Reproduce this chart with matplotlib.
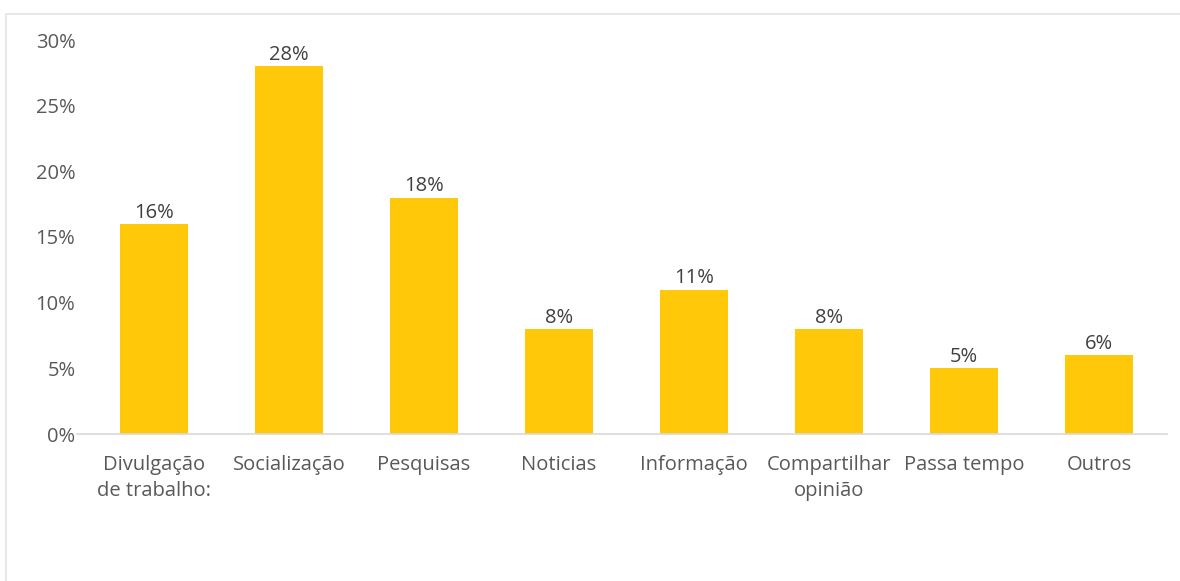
import matplotlib.pyplot as plt
from matplotlib.patches import Rectangle
from matplotlib.ticker import FuncFormatter

plt.rcParams['font.family'] = ['Open Sans', 'DejaVu Sans']

categories = ["Divulgação\nde trabalho:", "Socialização", "Pesquisas", "Noticias",
              "Informação", "Compartilhar\nopinião", "Passa tempo", "Outros"]
values = [0.16, 0.28, 0.18, 0.08, 0.11, 0.08, 0.05, 0.06]
yticks = [0, 0.05, 0.10, 0.15, 0.20, 0.25, 0.30]

bar_color = "#FFC90A"
text_color = "#595959"

fig = plt.figure(figsize=(11.8, 5.81), dpi=100)
ax = fig.add_axes([86.5 / 1180, 147 / 581, 1080 / 1180, 394 / 581])

x = range(len(categories))
bars = ax.bar(x, values, width=0.5, color=bar_color, zorder=2)
for b, v in zip(bars, values):
    ax.text(b.get_x() + b.get_width() / 2, v + 0.001, f"{v*100:.0f}%",
            ha="center", va="bottom", fontsize=14.5, color="#404040")

ax.set_xlim(-0.5, len(categories) - 0.5)
ax.set_ylim(0, 0.30)
ax.set_yticks(yticks)
ax.yaxis.set_major_formatter(FuncFormatter(lambda v, p: f"{v*100:.0f}%"))
ax.set_xticks(list(x))
ax.set_xticklabels(categories, linespacing=1.4)
ax.tick_params(axis="both", length=0, labelsize=14.5, colors=text_color)
ax.tick_params(axis="x", pad=15)
ax.tick_params(axis="y", pad=8)

for s in ["top", "right", "left"]:
    ax.spines[s].set_visible(False)
ax.spines["bottom"].set_color("#D9D9D9")
ax.spines["bottom"].set_linewidth(1.2)
ax.spines["bottom"].set_bounds(-0.57, len(categories) - 0.5)
ax.spines["bottom"].set_zorder(3)

# chart frame, only the top and left edges fall inside the image
fig.patches.append(Rectangle((6 / 1180, -0.1), 1.2, (581 - 13.5) / 581 + 0.1,
                             transform=fig.transFigure, fill=False,
                             edgecolor="#E3E3E3", linewidth=1.2))

fig.savefig("out.png", dpi=100)
